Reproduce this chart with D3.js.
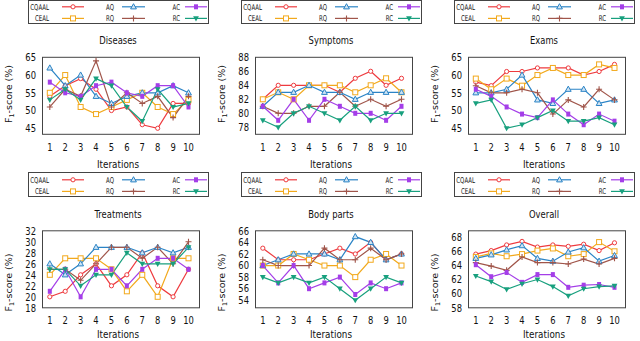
<!DOCTYPE html>
<html>
<head>
<meta charset="utf-8">
<script src="https://cdn.jsdelivr.net/npm/d3@7"></script>
<style>
body { margin: 0; background: #fff; }
text { font-family: "DejaVu Sans", Verdana, sans-serif; fill: #111; }
</style>
</head>
<body>
<div id="viz"></div>
<script>
var width = 640,
height = 341;

var iterations = [1, 2, 3, 4, 5, 6, 7, 8, 9, 10];
var seriesNames = ['CQAAL', 'CEAL', 'AQ', 'RQ', 'AC', 'RC'];

// one row per series, in the order of seriesNames
var diseases = [
  [54, 57, 59, 56, 50, 51, 46, 45, 52, 52],
  [55, 60, 51, 49, 51, 53, 55, 51, 49, 53],
  [62, 57, 60, 54, 52, 54, 55, 55, 57, 55],
  [51, 56, 54, 64, 51, 55, 52, 54, 48, 54],
  [58, 55, 54, 57, 58, 55, 54, 57, 57, 51],
  [53, 56, 53, 59, 57, 51, 47, 56, 51, 52]
];
var symptoms = [
  [82, 84, 84, 84, 84, 83, 85, 86, 84, 85],
  [82, 83, 82, 84, 84, 84, 83, 84, 85, 83],
  [81, 83, 83, 84, 83, 83, 82, 83, 83, 83],
  [81, 80, 80, 81, 81, 83, 81, 82, 81, 82],
  [81, 79, 82, 79, 82, 81, 80, 80, 79, 81],
  [79, 78, 80, 81, 80, 79, 81, 79, 80, 80]
];
var exams = [
  [58, 57, 61, 61, 62, 62, 62, 60, 61, 63],
  [59, 56, 59, 57, 60, 62, 60, 60, 63, 62],
  [55, 55, 56, 60, 53, 52, 56, 56, 52, 53],
  [57, 55, 55, 56, 55, 49, 53, 51, 56, 53],
  [56, 54, 51, 49, 48, 53, 49, 46, 49, 47],
  [52, 53, 45, 46, 48, 50, 47, 47, 48, 46]
];
var treatments = [
  [20, 21, 24, 26, 22, 24, 28, 22, 20, 25],
  [24, 27, 27, 27, 25, 21, 24, 20, 27, 27],
  [26, 24, 26, 29, 29, 29, 28, 29, 28, 29],
  [25, 25, 23, 26, 29, 29, 27, 29, 26, 30],
  [21, 25, 20, 25, 25, 22, 25, 27, 27, 25],
  [25, 25, 22, 24, 24, 28, 26, 26, 26, 29]
];
var bodyParts = [
  [63, 61, 61, 61, 62, 63, 62, 64, 61, 62],
  [60, 60, 62, 61, 60, 60, 58, 61, 62, 60],
  [60, 61, 62, 62, 62, 61, 65, 64, 61, 62],
  [61, 60, 60, 60, 63, 61, 61, 63, 61, 62],
  [60, 57, 60, 56, 57, 58, 55, 57, 56, 57],
  [58, 57, 58, 57, 58, 56, 54, 56, 58, 57]
];
var overall = [
  [65.6, 66.1, 66.9, 67.4, 66.6, 66.9, 66.7, 67.0, 66.1, 67.2],
  [65.2, 65.7, 65.3, 65.6, 66.1, 66.4, 65.3, 65.6, 67.3, 66.0],
  [65.0, 65.5, 66.2, 66.8, 65.0, 64.6, 65.9, 66.5, 64.6, 65.4],
  [64.4, 63.9, 63.3, 65.2, 64.4, 64.4, 64.2, 64.9, 64.2, 65.0],
  [64.1, 62.4, 63.0, 61.6, 62.7, 62.7, 60.9, 61.2, 61.3, 60.9],
  [62.5, 61.7, 60.6, 61.4, 62.0, 61.0, 59.7, 60.7, 61.0, 61.1]
];

var titles = ['Diseases', 'Symptoms', 'Exams', 'Treatments', 'Body parts', 'Overall'];
var yTicks = [
  [45, 50, 55, 60, 65],
  [78, 80, 82, 84, 86, 88],
  [45, 50, 55, 60, 65],
  [18, 20, 22, 24, 26, 28, 30, 32],
  [54, 56, 58, 60, 62, 64, 66],
  [58, 60, 62, 64, 66, 68]
];
var yDomains = [[43.3, 65], [77, 88], [43.3, 65], [18, 32], [52.7, 66], [58, 68.9]];
var panelData = [diseases, symptoms, exams, treatments, bodyParts, overall];

var colors = ['#ee3b3f', '#f2a91c', '#2b84c6', '#a0554a', '#a43ee8', '#18a07e'];
var symbols = ['circle', 'square', 'triUp', 'plus', 'box', 'triDown'];

var svg = d3.select('#viz').append('svg')
  .attr('width', width)
  .attr('height', height);

svg.append('rect')
  .attr('width', width)
  .attr('height', height)
  .attr('fill', 'white');

// the figure is squeezed sideways, so text is drawn a bit narrow
function label(g, x, y, str, size, anchor, sx) {
  return g.append('text')
    .attr('transform', 'translate(' + x + ',' + y + ') scale(' + sx + ',1)')
    .attr('text-anchor', anchor)
    .attr('font-size', size)
    .text(str);
}

function drawMarker(g, type, x, y, color) {
  var s = 2.5;
  if (type === 'circle') {
    g.append('circle').attr('cx', x).attr('cy', y).attr('r', 2.1)
      .attr('fill', 'white').attr('stroke', color).attr('stroke-width', 1);
  } else if (type === 'square') {
    g.append('rect').attr('x', x - s).attr('y', y - s).attr('width', s * 2).attr('height', s * 2)
      .attr('fill', 'white').attr('stroke', color).attr('stroke-width', 1);
  } else if (type === 'triUp') {
    g.append('path').attr('d', 'M' + x + ',' + (y - s - 0.6) + 'L' + (x + s + 0.4) + ',' + (y + s - 0.4) + 'L' + (x - s - 0.4) + ',' + (y + s - 0.4) + 'Z')
      .attr('fill', '#cfe3f3').attr('stroke', color).attr('stroke-width', 1);
  } else if (type === 'plus') {
    g.append('path').attr('d', 'M' + (x - s - 0.5) + ',' + y + 'H' + (x + s + 0.5) + 'M' + x + ',' + (y - s - 0.5) + 'V' + (y + s + 0.5))
      .attr('stroke', color).attr('stroke-width', 1.1);
  } else if (type === 'box') {
    g.append('rect').attr('x', x - s + 0.5).attr('y', y - s).attr('width', (s - 0.5) * 2).attr('height', s * 2)
      .attr('fill', color);
  } else if (type === 'triDown') {
    g.append('path').attr('d', 'M' + x + ',' + (y + s + 0.6) + 'L' + (x + s + 0.4) + ',' + (y - s + 0.4) + 'L' + (x - s - 0.4) + ',' + (y - s + 0.4) + 'Z')
      .attr('fill', color);
  }
}

yDomains.forEach(function (domain, i) {
  var col = i % 3,
    row = Math.floor(i / 3);
  var ox = col * 213,
    oy = row ? 173.5 : 0;
  var g = svg.append('g').attr('transform', 'translate(' + ox + ',' + oy + ')');

  var top = 57.3,
    bottom = 134.3,
    left = 42,
    right = 199;

  var x = d3.scaleLinear().domain([1, 10]).range([49.8, 188.5]);
  var y = d3.scaleLinear().domain(domain).range([bottom, top]);

  // legend
  var lg = g.append('g').attr('transform', 'translate(0,' + (row ? -1.5 : -1) + ')');
  lg.append('rect')
    .attr('x', 28.5).attr('y', row ? 0.5 : 1.5)
    .attr('width', 180).attr('height', row ? 24 : 23)
    .attr('fill', 'white').attr('stroke', '#444').attr('stroke-width', 1);
  seriesNames.forEach(function (name, k) {
    var lc = Math.floor(k / 2);
    var lr = k % 2;
    var tx = [49, 114, 180][lc];
    var ly = 7.8 + lr * 11.6;
    label(lg, tx, ly + 2.8, name, 8, 'end', 0.68);
    lg.append('line')
      .attr('x1', tx + [13, 8, 5][lc]).attr('x2', tx + [35, 31, 27][lc])
      .attr('y1', ly).attr('y2', ly)
      .attr('stroke', colors[k]).attr('stroke-width', 1.2);
    drawMarker(lg, symbols[k], tx + [24, 19.5, 16][lc], ly, colors[k]);
  });

  // title
  label(g, 118, 44, titles[i], 10.5, 'middle', 0.8);

  // border
  g.append('rect')
    .attr('x', left + 0.5).attr('y', top)
    .attr('width', right - left).attr('height', bottom - top)
    .attr('fill', 'none').attr('stroke', '#444').attr('stroke-width', 1);

  // y tick labels
  yTicks[i].forEach(function (t) {
    label(g, 36, y(t) + 3.8, t, 10.5, 'end', 0.8);
  });

  // x tick labels
  iterations.forEach(function (t) {
    label(g, x(t), bottom + 16.5, t, 10.5, 'middle', 0.8);
  });

  // axis labels
  label(g, 118, bottom + (row ? 30 : 33.5), 'Iterations', 10.5, 'middle', 0.84);

  var yl = g.append('text')
    .attr('transform', 'translate(11.5,' + (row ? 109 : 94) + ') rotate(-90)')
    .attr('text-anchor', 'middle')
    .attr('font-size', 9.5);
  yl.append('tspan').text('F');
  yl.append('tspan').attr('font-size', 6.5).attr('dy', 2.5).text('1');
  yl.append('tspan').attr('dy', -2.5).text('-score (%)');

  // series
  var line = d3.line()
    .x(function (d, j) { return x(iterations[j]); })
    .y(function (d) { return y(d); });

  panelData[i].forEach(function (vals, k) {
    g.append('path')
      .attr('d', line(vals))
      .attr('fill', 'none')
      .attr('stroke', colors[k])
      .attr('stroke-width', 1.2);
  });
  panelData[i].forEach(function (vals, k) {
    vals.forEach(function (v, j) {
      drawMarker(g, symbols[k], x(iterations[j]), y(v), colors[k]);
    });
  });
});
</script>
</body>
</html>
